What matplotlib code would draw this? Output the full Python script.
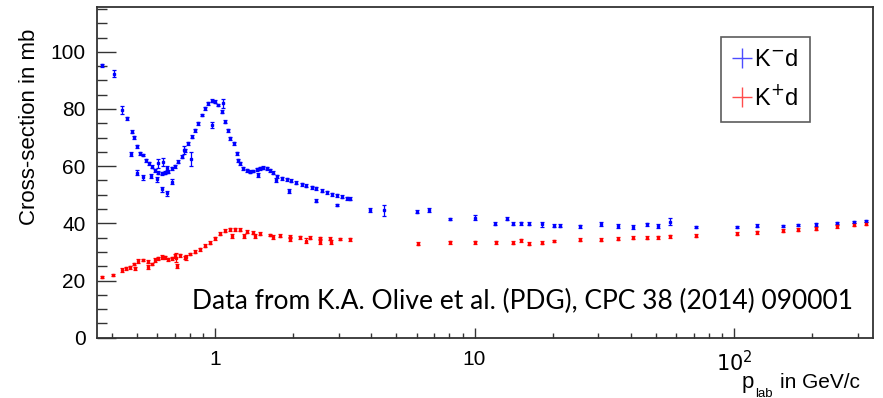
import matplotlib.pyplot as plt
from matplotlib.lines import Line2D
from matplotlib.ticker import FixedLocator, FixedFormatter, MultipleLocator, LogLocator, NullFormatter

plt.rcParams["font.family"] = ["Liberation Sans Narrow", "Liberation Sans", "DejaVu Sans"]

# K- d total cross-section (mb) vs p_lab (GeV/c)
kmd_p = [0.366, 0.408, 0.44, 0.457, 0.478, 0.487, 0.50, 0.473, 0.516, 0.53, 0.543, 0.558,
         0.57, 0.587, 0.605, 0.623, 0.642, 0.661, 0.681, 0.70, 0.722, 0.744, 0.766, 0.789,
         0.813, 0.838, 0.863, 0.889, 0.915, 0.943, 0.971, 1.0, 1.03, 1.06, 1.093, 1.125,
         1.14, 1.18, 1.21, 1.23, 1.25, 1.285, 1.325, 1.36, 1.405, 1.447, 1.49, 1.535, 1.58,
         1.63, 1.68, 1.73, 1.81, 1.89, 1.97, 2.06, 2.16, 2.25, 2.36, 2.46, 2.58, 2.70, 2.82,
         2.95, 3.08, 3.22, 3.32,
         0.50, 0.53, 0.565, 0.598, 0.623, 0.655, 0.685, 0.605, 0.63, 0.655, 0.76, 0.806,
         0.976, 1.07, 1.47, 1.72, 1.93, 2.46, 2.95, 3.95, 4.49,
         5.99, 6.66, 8.05, 10.0, 12.0, 13.3, 14.1, 15.1, 16.2, 18.2, 20.3, 21.3, 25.4, 30.6,
         35.6, 40.7, 46.0, 51.1, 56.5, 71.6, 102.4, 122.6, 154.6, 175.7, 206.6, 249.7, 290.6,
         322.6]
kmd_sig = [95.3, 92.4, 79.6, 76.7, 72.0, 70.1, 67.0, 64.2, 64.5, 63.9, 62.1, 61.0,
           59.8, 58.6, 57.7, 57.5, 57.7, 58.0, 59.2, 60.0, 61.5, 63.3, 65.6, 68.0,
           70.3, 72.6, 75.0, 77.9, 80.2, 82.0, 82.9, 82.5, 81.4, 79.0, 75.5, 72.6,
           69.7, 68.0, 64.5, 62.1, 61.0, 59.2, 58.6, 58.0, 58.3, 58.9, 59.3, 59.4, 59.3,
           58.6, 57.7, 56.5, 55.7, 55.4, 54.9, 54.2, 53.6, 53.1, 52.6, 52.2, 51.4, 50.8, 50.2,
           49.8, 49.3, 48.8, 48.6,
           57.7, 56.1, 56.6, 55.4, 51.9, 50.5, 54.5, 61.0, 61.5, 59.4, 65.6, 62.5,
           74.4, 82.0, 56.9, 55.1, 51.4, 47.9, 46.4, 44.6, 44.6,
           44.0, 44.6, 41.5, 42.0, 39.9, 41.6, 39.8, 40.0, 39.8, 39.6, 39.1, 39.1, 39.0, 39.8,
           39.1, 38.7, 39.6, 39.1, 40.5, 38.6, 38.8, 39.2, 39.1, 39.3, 39.6, 40.2, 40.5,
           40.8]
kmd_err = [0.5, 1.2, 1.5, 0.6, 0.5, 0.6, 0.5, 0.8, 0.5, 0.5, 0.5, 0.5,
           0.5, 0.5, 0.5, 0.5, 0.5, 0.5, 0.5, 0.5, 0.5, 0.5, 0.5, 0.5,
           0.5, 0.5, 0.5, 0.5, 0.5, 0.5, 0.5, 0.5, 0.5, 0.5, 0.5, 0.5,
           0.5, 0.5, 0.5, 0.5, 0.5, 0.5, 0.5, 0.5, 0.5, 0.5, 0.5, 0.5, 0.5,
           0.5, 0.5, 0.5, 0.5, 0.5, 0.5, 0.5, 0.5, 0.5, 0.5, 0.5, 0.5, 0.5, 0.5,
           0.5, 0.5, 0.5, 0.5,
           0.8, 0.8, 0.8, 0.8, 0.8, 0.9, 0.9, 1.5, 1.3, 0.8, 1.4, 2.3,
           0.9, 1.5, 0.6, 0.6, 0.7, 0.6, 0.5, 0.6, 1.9,
           0.5, 0.8, 0.5, 0.8, 0.5, 0.6, 0.5, 0.5, 0.5, 0.8, 0.5, 0.5, 0.5, 0.6,
           0.6, 0.6, 0.6, 0.6, 1.2, 0.4, 0.4, 0.4, 0.4, 0.4, 0.5, 0.4, 0.4,
           0.5]

# K+ d total cross-section (mb) vs p_lab (GeV/c)
kpd_p = [0.366, 0.404, 0.44, 0.454, 0.47, 0.487, 0.505, 0.53, 0.553, 0.57, 0.587, 0.605,
         0.623, 0.642, 0.661, 0.681, 0.70, 0.715, 0.733, 0.766, 0.80, 0.838, 0.875, 0.915,
         0.957, 1.0, 1.045, 1.093, 1.14, 1.195, 1.25, 1.325, 1.405, 1.49, 1.63, 1.78,
         1.945, 2.12, 2.32, 2.54, 2.77, 3.03, 3.31,
         1.16, 1.29, 1.43, 1.68, 1.945, 2.25, 2.54, 2.79, 0.71, 0.775, 0.49, 0.55,
         6.03, 8.04, 10.06, 12.1, 14.1, 15.1, 16.2, 18.2, 20.3, 25.4, 30.6, 35.6, 40.7,
         46.0, 51.1, 56.5, 71.6, 102.4, 122.6, 154.6, 175.7, 206.6, 249.7, 290.6, 322.6]
kpd_sig = [21.3, 21.9, 23.7, 24.3, 24.6, 25.8, 26.9, 27.2, 26.6, 25.8, 27.2, 27.8,
           28.3, 28.1, 27.4, 27.8, 28.6, 25.1, 28.9, 28.1, 29.3, 30.1, 30.9, 32.1,
           33.2, 34.8, 36.3, 37.4, 37.9, 37.9, 37.7, 37.1, 36.7, 36.3, 35.9, 35.6,
           35.3, 35.1, 34.9, 34.8, 34.6, 34.5, 34.4,
           35.6, 35.6, 35.6, 35.1, 34.5, 33.9, 33.6, 33.5, 28.0, 28.1, 24.3, 24.8,
           32.9, 33.4, 33.4, 33.4, 33.2, 34.0, 32.9, 33.2, 33.8, 34.2, 34.2, 34.6, 35.0,
           35.0, 35.1, 35.4, 35.7, 36.3, 36.8, 37.4, 37.8, 38.1, 39.0, 39.5, 39.8]
kpd_err = [0.4, 0.4, 0.6, 0.5, 0.6, 0.5, 0.6, 0.5, 0.5, 0.5, 0.6, 0.6,
           0.6, 0.6, 0.5, 0.6, 0.6, 0.6, 0.5, 0.5, 0.5, 0.5, 0.5, 0.5,
           0.5, 0.5, 0.5, 0.5, 0.5, 0.5, 0.5, 0.5, 0.5, 0.5, 0.5, 0.5,
           0.5, 0.5, 0.5, 0.5, 0.5, 0.5, 0.5,
           0.8, 0.8, 0.7, 0.7, 0.8, 0.8, 0.8, 0.8, 1.5, 1.0, 0.6, 0.6,
           0.5, 0.5, 0.5, 0.5, 0.5, 0.5, 0.5, 0.5, 0.5, 0.5, 0.5, 0.5, 0.5,
           0.5, 0.5, 0.5, 0.5, 0.5, 0.5, 0.5, 0.5, 0.5, 0.5, 0.5, 0.5]

x_ticks = [1, 10, 100]
x_labels = ["1", "10", "$10^2$"]

fig = plt.figure(figsize=(8.83, 3.98), dpi=100)
ax = fig.add_axes([0.1095, 0.1515, 0.8788, 0.8297])

style = dict(fmt="s", markersize=1.6, capsize=1.5, elinewidth=0.9, capthick=0.9, linestyle="none")
ax.errorbar(kmd_p, kmd_sig, yerr=kmd_err, color="#0000ff", **style)
ax.errorbar(kpd_p, kpd_sig, yerr=kpd_err, color="#ff0000", **style)

ax.set_xscale("log")
ax.set_xlim(0.35, 342)
ax.set_ylim(0, 115.5)

ax.xaxis.set_major_locator(FixedLocator(x_ticks))
ax.xaxis.set_major_formatter(FixedFormatter(x_labels))
ax.xaxis.set_minor_locator(LogLocator(base=10, subs=range(2, 10)))
ax.xaxis.set_minor_formatter(NullFormatter())
ax.yaxis.set_major_locator(MultipleLocator(20))
ax.yaxis.set_minor_locator(MultipleLocator(5))

ax.tick_params(axis="both", which="both", direction="in", top=False, right=False,
               labelsize=15, color="#333333", width=1.0)
ax.tick_params(axis="y", which="major", length=14, pad=8)
ax.tick_params(axis="y", which="minor", length=7)
ax.tick_params(axis="x", which="major", length=7, pad=9)
ax.tick_params(axis="x", which="minor", length=3.5)
for s in ax.spines.values():
    s.set_color("#333333")
    s.set_linewidth(1.3)

fig.text(30 / 883, 1 - 127 / 398, "Cross-section in mb", rotation=90,
         ha="center", va="center", fontsize=16)
# x title ROOT style: subscript sits low, at the canvas edge
fig.text(860 / 883, 1 - 388 / 398, "in GeV/c", ha="right", va="baseline", fontsize=15)
fig.text(755 / 883, 1 - 397 / 398, "lab", ha="left", va="baseline", fontsize=9.5)
fig.text(754 / 883, 1 - 388 / 398, "p", ha="right", va="baseline", fontsize=16)

ax.text(0.9746, 0.087, "Data from K.A. Olive et al. (PDG), CPC 38 (2014) 090001",
        transform=ax.transAxes, ha="right", va="baseline", fontsize=19,
        family=["Lato", "DejaVu Sans"])

handles = [Line2D([], [], color="#0000ff", marker="+", markersize=14, linestyle="none",
                  markeredgewidth=1.0, alpha=0.7),
           Line2D([], [], color="#ff0000", marker="+", markersize=14, linestyle="none",
                  markeredgewidth=1.0, alpha=0.7)]
leg = ax.legend(handles, ["K$^{-}$d", "K$^{+}$d"], loc="upper left",
                bbox_to_anchor=(721 / 883, 1 - 37 / 398), bbox_transform=fig.transFigure,
                prop={"family": ["Liberation Sans", "DejaVu Sans"], "size": 17},
                frameon=True, fancybox=False, handlelength=0.8,
                handletextpad=0.1, borderpad=0.5, labelspacing=0.6, borderaxespad=0)
leg.get_frame().set_edgecolor("#333333")
leg.get_frame().set_linewidth(1.2)

fig.savefig("out.png", dpi=100)
